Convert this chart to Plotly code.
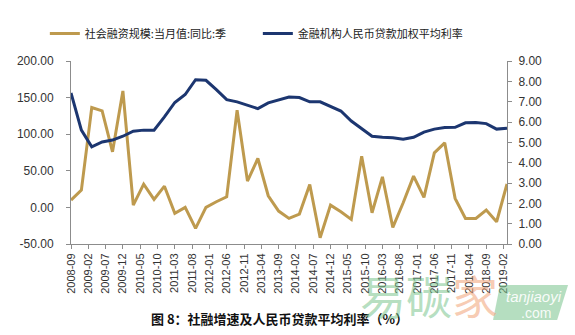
import pandas as pd
import plotly.graph_objects as go

# Quarter-end observations, 2008-09 .. 2019-03
quarters = [str(p) for p in pd.period_range("2008-09", "2019-03", freq="3M")]

# 社会融资规模:当月值:同比:季 (left axis)
tsf_yoy = [10, 23.6, 136.4, 131.8, 75.9, 159, 3.1, 31.8, 10.9, 29,
           -8.2, 0, -28.7, 0, 7.7, 14.5, 132.7, 35.9, 66.8, 15.9,
           -5, -15, -9.1, 31.4, -41.4, 3.1, -6, -16.4, 70, -7.3,
           41.8, -27.3, 6.3, 42.7, 13.6, 74.5, 88.2, 12.3, -15, -15,
           -3.7, -19.6, 32]

# 金融机构人民币贷款加权平均利率 (right axis)
loan_rate = [7.43, 5.60, 4.78, 5.02, 5.11, 5.30, 5.55, 5.60, 5.60, 6.25,
             6.96, 7.35, 8.08, 8.05, 7.59, 7.10, 6.99, 6.82, 6.66, 6.94,
             7.10, 7.23, 7.20, 6.99, 6.99, 6.77, 6.54, 6.05, 5.68, 5.30,
             5.25, 5.22, 5.15, 5.25, 5.50, 5.65, 5.73, 5.74, 5.96, 5.98,
             5.92, 5.65, 5.69]

# Monthly category axis, labelled every five months
months = [str(p) for p in pd.period_range("2008-09", "2019-03", freq="M")]
tick_months = months[::5]

left_ticks = [-50, 0, 50, 100, 150, 200]
right_ticks = [0, 1, 2, 3, 4, 5, 6, 7, 8, 9]

GOLD = "#BE9A4E"
NAVY = "#1C3670"
AXIS = "#8C8C8C"
TEXT = "#333333"
NUM_FONT = dict(family="Liberation Sans, Arial, sans-serif", size=12, color=TEXT)

fig = go.Figure()
fig.add_trace(go.Scatter(
    x=quarters, y=tsf_yoy, mode="lines", name="社会融资规模:当月值:同比:季",
    line=dict(color=GOLD, width=3), yaxis="y"))
fig.add_trace(go.Scatter(
    x=quarters, y=loan_rate, mode="lines", name="金融机构人民币贷款加权平均利率",
    line=dict(color=NAVY, width=3), yaxis="y2"))

fig.update_layout(
    width=575, height=335,
    margin=dict(l=71, r=68, t=61, b=91, pad=0),
    paper_bgcolor="white", plot_bgcolor="white",
    showlegend=True,
    legend=dict(orientation="h", x=-0.06, xanchor="left", y=1.15, yanchor="middle",
                font=dict(family="Noto Sans CJK SC", size=11, color="#222222"),
                bgcolor="rgba(0,0,0,0)", itemwidth=30, entrywidth=168,
                tracegroupgap=0),
    xaxis=dict(
        type="category", categoryorder="array", categoryarray=months,
        range=[0, len(months) - 1],
        tickmode="array", tickvals=tick_months, ticktext=tick_months,
        tickangle=-90, ticks="outside", ticklen=4, tickcolor=AXIS,
        showline=True, linecolor=AXIS, linewidth=1, showgrid=False, zeroline=False,
        tickfont=dict(family="Liberation Sans, Arial, sans-serif", size=11, color=TEXT)),
    yaxis=dict(
        range=[-50, 200], tickmode="array", tickvals=left_ticks,
        ticktext=[f"{v:.2f}" for v in left_ticks],
        ticks="outside", ticklen=4, tickcolor=AXIS,
        showline=True, linecolor=AXIS, linewidth=1, showgrid=False, zeroline=False,
        tickfont=NUM_FONT, ticklabelstandoff=10),
    yaxis2=dict(
        range=[0, 9], overlaying="y", side="right", tickmode="array",
        tickvals=right_ticks, ticktext=[f"{v:.2f}" for v in right_ticks],
        ticks="outside", ticklen=4, tickcolor=AXIS,
        showline=True, linecolor=AXIS, linewidth=1, showgrid=False, zeroline=False,
        tickfont=NUM_FONT, ticklabelstandoff=4),
)

# Caption under the chart
fig.add_annotation(
    xref="paper", yref="paper", x=0.18, y=-0.405, xanchor="left", yanchor="middle",
    text="<b>图 8：社融增速及人民币贷款平均利率（%）</b>", showarrow=False,
    font=dict(family="Noto Sans CJK SC", size=13, color="#111111"))

# Site watermark
fig.add_annotation(
    xref="paper", yref="paper", x=0.82, y=-0.275, xanchor="center", yanchor="middle",
    text="<span style='color:rgba(120,195,140,0.55)'>易碳</span>"
         "<span style='color:rgba(240,160,115,0.55)'>家</span>",
    showarrow=False, font=dict(family="Noto Sans CJK SC", size=46))
fig.add_shape(
    type="path", xref="paper", yref="paper",
    path="M 0.984 -0.224 L 1.140 -0.224 L 1.115 -0.415 L 0.968 -0.415 Z",
    fillcolor="rgba(120,195,140,0.55)", line=dict(width=0), layer="above")
fig.add_annotation(
    xref="paper", yref="paper", x=1.061, y=-0.286, xanchor="center", yanchor="middle",
    text="<i>tanjiaoyi</i>", showarrow=False,
    font=dict(family="Liberation Sans", size=15, color="rgba(255,255,255,0.92)"))
fig.add_annotation(
    xref="paper", yref="paper", x=1.105, y=-0.375, xanchor="right", yanchor="middle",
    text=".com", showarrow=False,
    font=dict(family="Liberation Sans", size=14, color="rgba(255,255,255,0.92)"))

fig.write_html("out.html")
